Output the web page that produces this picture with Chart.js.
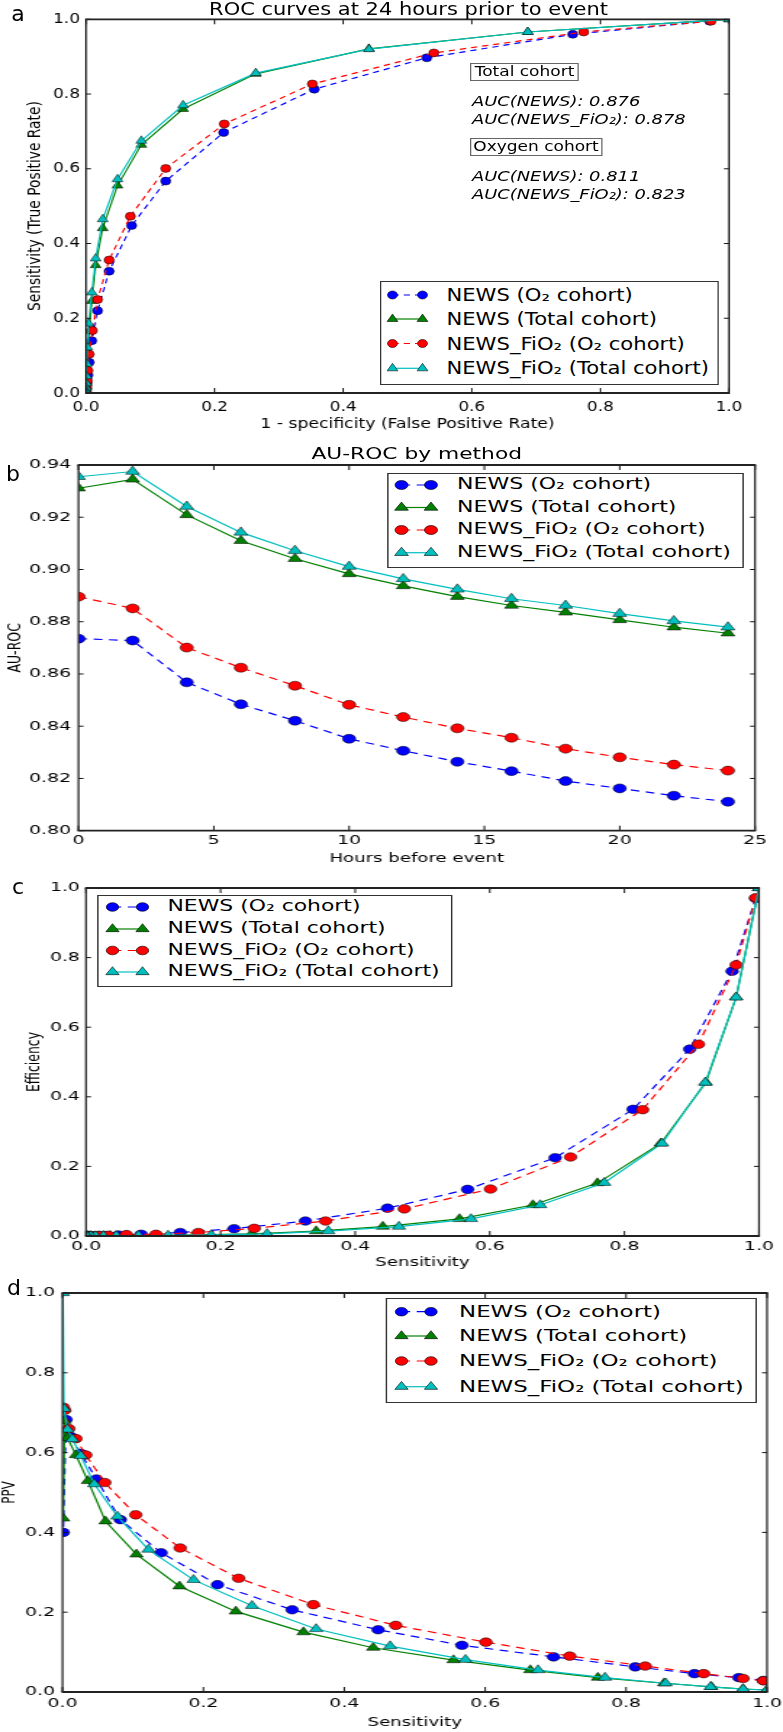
<!DOCTYPE html>
<html>
<head>
<meta charset="utf-8">
<script src="https://cdn.jsdelivr.net/npm/chart.js@4.4.1/dist/chart.umd.min.js"></script>
<style>
html,body{margin:0;padding:0;background:#fff;}
body{width:783px;height:1732px;overflow:hidden;position:relative;font-family:"DejaVu Sans",sans-serif;color:#000;}
.panel{position:absolute;left:0;transform-origin:0 0;}
.panel canvas{position:absolute;left:0;top:0;}
.t{position:absolute;white-space:nowrap;line-height:1;}
.c{transform:translate(-50%,-50%);}
.l{transform:translate(0,-50%);}
.legend{position:absolute;background:#fff;box-sizing:border-box;border-style:solid;border-color:#333;}
.box{position:absolute;box-sizing:border-box;border-style:solid;border-color:#666;display:flex;align-items:center;justify-content:center;white-space:nowrap;line-height:1;}
svg{position:absolute;left:0;top:0;overflow:visible;}
</style>
</head>
<body>
<script>
// ---------------- DATA ----------------
const legendLabels = ['NEWS (O₂ cohort)', 'NEWS (Total cohort)', 'NEWS_FiO₂ (O₂ cohort)', 'NEWS_FiO₂ (Total cohort)'];

// tick labels
const unitTicks = [0, 0.2, 0.4, 0.6, 0.8, 1.0];
const hourTicks = [0, 5, 10, 15, 20, 25];
const aurocTicks = [0.80, 0.82, 0.84, 0.86, 0.88, 0.90, 0.92, 0.94];

// Panel b: AU-ROC by hours before event
const hoursBefore = [0, 2, 4, 6, 8, 10, 12, 14, 16, 18, 20, 22, 24];
const aurocNewsO2 = [0.8735, 0.8728, 0.8568, 0.8484, 0.8421, 0.8352, 0.8306, 0.8264, 0.8228, 0.8190, 0.8162, 0.8134, 0.8111];
const aurocNewsTotal = [0.9311, 0.9345, 0.9209, 0.9110, 0.9041, 0.8983, 0.8937, 0.8896, 0.8862, 0.8836, 0.8807, 0.8779, 0.8756];
const aurocFio2O2 = [0.8896, 0.8851, 0.8701, 0.8624, 0.8555, 0.8482, 0.8435, 0.8392, 0.8356, 0.8314, 0.8281, 0.8253, 0.8230];
const aurocFio2Total = [0.9355, 0.9375, 0.9241, 0.9142, 0.9072, 0.9011, 0.8964, 0.8924, 0.8888, 0.8862, 0.8831, 0.8803, 0.8779];

// Panels a, c, d: operating points (one per score threshold)
const sensNewsO2 = [0.995, 0.960, 0.897, 0.813, 0.697, 0.567, 0.448, 0.326, 0.220, 0.140, 0.082, 0.048, 0.026, 0.012, 0.005, 0.001];
const fprNewsO2  = [0.970, 0.757, 0.530, 0.355, 0.214, 0.124, 0.071, 0.036, 0.018, 0.009, 0.005, 0.003, 0.0015, 0.0008, 0.0003, 0.0001];
const effNewsO2  = [0.970, 0.761, 0.537, 0.364, 0.225, 0.134, 0.080, 0.043, 0.021, 0.010, 0.005, 0.003, 0.0015, 0.0008, 0.0003, 0.0001];
const ppvNewsO2  = [0.029, 0.036, 0.046, 0.063, 0.088, 0.117, 0.156, 0.206, 0.269, 0.349, 0.432, 0.534, 0.598, 0.640, 0.683, 0.400];

const sensNewsTotal = [1.0, 0.966, 0.921, 0.854, 0.760, 0.664, 0.555, 0.441, 0.342, 0.246, 0.166, 0.105, 0.061, 0.036, 0.019, 0.007, 0.003, 0.001];
const fprNewsTotal  = [1.0, 0.687, 0.440, 0.264, 0.151, 0.086, 0.049, 0.026, 0.015, 0.009, 0.005, 0.003, 0.0015, 0.0008, 0.0004, 0.0002, 0.0001, 0.00005];
const effNewsTotal  = [1.0, 0.686, 0.441, 0.266, 0.152, 0.089, 0.049, 0.027, 0.014, 0.006, 0.003, 0.0015, 0.0008, 0.0005, 0.0003, 0.0001, 0.00005, 0.00002];
const ppvNewsTotal  = [0.005, 0.0075, 0.013, 0.022, 0.036, 0.055, 0.080, 0.111, 0.150, 0.202, 0.265, 0.345, 0.428, 0.529, 0.594, 0.637, 0.680, 0.435];

const sensFio2O2 = [0.995, 0.966, 0.910, 0.827, 0.720, 0.601, 0.473, 0.356, 0.250, 0.167, 0.104, 0.060, 0.033, 0.019, 0.009, 0.003, 0.001];
const fprFio2O2  = [0.972, 0.774, 0.541, 0.352, 0.215, 0.124, 0.069, 0.036, 0.018, 0.010, 0.005, 0.003, 0.002, 0.001, 0.0005, 0.0002, 0.0001];
const effFio2O2  = [0.972, 0.779, 0.551, 0.363, 0.227, 0.135, 0.078, 0.043, 0.022, 0.010, 0.005, 0.004, 0.002, 0.001, 0.0005, 0.0002, 0.0001];
const ppvFio2O2  = [0.028, 0.034, 0.046, 0.065, 0.090, 0.125, 0.167, 0.219, 0.285, 0.361, 0.444, 0.525, 0.594, 0.635, 0.660, 0.706, 0.714];

const sensFio2Total = [1.0, 0.966, 0.920, 0.856, 0.770, 0.675, 0.572, 0.465, 0.360, 0.269, 0.186, 0.122, 0.078, 0.045, 0.026, 0.014, 0.007, 0.002, 0.0005];
const fprFio2Total  = [1.0, 0.687, 0.440, 0.264, 0.151, 0.086, 0.049, 0.026, 0.015, 0.009, 0.004, 0.002, 0.0012, 0.0007, 0.0004, 0.0002, 0.0001, 0.00005, 0.00002];
const effFio2Total  = [1.0, 0.686, 0.441, 0.266, 0.153, 0.089, 0.049, 0.027, 0.014, 0.006, 0.003, 0.0015, 0.0009, 0.0005, 0.0003, 0.0002, 0.0001, 0.00005, 0.00002];
const ppvFio2Total  = [0.005, 0.007, 0.013, 0.022, 0.036, 0.055, 0.081, 0.115, 0.158, 0.216, 0.281, 0.357, 0.440, 0.521, 0.592, 0.634, 0.658, 0.710, 1.0];

// ---------------- STYLE / LAYOUT ----------------
const FONT = '"DejaVu Sans", sans-serif';
Chart.defaults.font.family = FONT;
Chart.defaults.color = '#000';

const styles = [
  {color: '#0000ff', dash: true,  point: 'circle'},
  {color: '#008000', dash: false, point: 'triangle'},
  {color: '#ff0000', dash: true,  point: 'circle'},
  {color: '#00bfbf', dash: false, point: 'triangle'}
];

const NS = 'http://www.w3.org/2000/svg';

const framePlugin = {
  id: 'frame',
  afterDatasetsDraw(chart, args, opts) {
    const {ctx, chartArea: a} = chart;
    const xs = chart.scales.x, ys = chart.scales.y;
    const S = opts.S || 1;
    ctx.save();
    ctx.strokeStyle = '#111';
    ctx.lineWidth = 1;
    ctx.beginPath();
    const tv = 5, th = 5 / S;
    xs.ticks.forEach(t => {
      const p = xs.getPixelForValue(t.value);
      ctx.moveTo(p, a.bottom); ctx.lineTo(p, a.bottom - tv);
      ctx.moveTo(p, a.top); ctx.lineTo(p, a.top + tv);
    });
    ys.ticks.forEach(t => {
      const p = ys.getPixelForValue(t.value);
      ctx.moveTo(a.left, p); ctx.lineTo(a.left + th, p);
      ctx.moveTo(a.right, p); ctx.lineTo(a.right - th, p);
    });
    ctx.stroke();
    ctx.strokeStyle = '#222';
    ctx.lineWidth = 1.8;
    ctx.beginPath();
    ctx.moveTo(a.left - 0.9 / S, a.top); ctx.lineTo(a.right + 0.9 / S, a.top);
    ctx.moveTo(a.left - 0.9 / S, a.bottom); ctx.lineTo(a.right + 0.9 / S, a.bottom);
    ctx.stroke();
    ctx.lineWidth = 1.8 / S;
    ctx.beginPath();
    ctx.moveTo(a.left, a.top); ctx.lineTo(a.left, a.bottom);
    ctx.moveTo(a.right, a.top); ctx.lineTo(a.right, a.bottom);
    ctx.stroke();
    ctx.restore();
  }
};

function makePanel(L) {
  const div = document.createElement('div');
  div.className = 'panel';
  div.style.top = L.top + 'px';
  div.style.width = L.W + 'px';
  div.style.height = L.H + 'px';
  div.style.transform = 'scaleX(' + L.S + ')';
  document.body.appendChild(div);
  const cv = document.createElement('canvas');
  cv.width = L.W; cv.height = L.H;
  cv.style.width = L.W + 'px'; cv.style.height = L.H + 'px';
  div.appendChild(cv);
  return {div, cv, S: L.S, top: L.top, L};
}

function buildDatasets(xArrs, yArrs, L) {
  return legendLabels.map((lab, i) => ({
    label: lab,
    data: xArrs[i].map((x, j) => ({x: x, y: yArrs[i][j]})),
    borderColor: styles[i].color,
    backgroundColor: styles[i].color,
    borderWidth: L.lw,
    borderDash: styles[i].dash ? L.dash : [],
    pointStyle: styles[i].point,
    pointRadius: styles[i].point === 'circle' ? L.rc : L.rt,
    pointBackgroundColor: styles[i].color,
    pointBorderColor: '#000',
    pointBorderWidth: 0.5,
    tension: 0,
    fill: false,
    order: 3 - i
  }));
}

function makeChart(p, datasets, ax) {
  const L = p.L;
  const yW = L.left / L.S;
  const padRight = L.W - L.right / L.S;
  return new Chart(p.cv, {
    type: 'line',
    data: {datasets},
    options: {
      responsive: false, animation: false, devicePixelRatio: 1,
      events: [],
      layout: {padding: {left: 0, top: L.ctop - L.top, right: padRight, bottom: 0}},
      plugins: {legend: {display: false}, title: {display: false}, tooltip: {enabled: false}, frame: {S: L.S}},
      scales: {
        x: {
          type: 'linear', min: ax.xMin, max: ax.xMax,
          afterBuildTicks: s => { s.ticks = ax.xTicks.map(v => ({value: v})); },
          afterFit: s => { s.height = L.top + L.H - L.cbottom; },
          grid: {display: false, drawTicks: false}, border: {display: false},
          ticks: {autoSkip: false, maxRotation: 0, minRotation: 0, color: '#000',
                  font: {family: FONT, size: L.tickFont}, padding: L.xTickPad, callback: ax.xFmt},
          title: {display: true, text: ax.xTitle, color: '#000', font: {family: FONT, size: L.titleFont},
                  padding: {top: 0, bottom: L.xTitlePad}}
        },
        y: {
          type: 'linear', min: ax.yMin, max: ax.yMax,
          afterBuildTicks: s => { s.ticks = ax.yTicks.map(v => ({value: v})); },
          afterFit: s => { s.width = yW; },
          grid: {display: false, drawTicks: false}, border: {display: false},
          ticks: {autoSkip: false, color: '#000', font: {family: FONT, size: L.tickFont},
                  padding: L.yTickPad, callback: ax.yFmt},
          title: {display: true, text: ax.yTitle, color: '#000', font: {family: FONT, size: L.yTitleFont || L.titleFont},
                  padding: {top: L.yTitlePad, bottom: 0}}
        }
      }
    },
    plugins: [framePlugin]
  });
}

function addText(p, text, fx, fy, size, opts) {
  opts = opts || {};
  const el = document.createElement('div');
  el.className = 't ' + (opts.left ? 'l' : 'c');
  el.style.left = (fx / p.S) + 'px';
  el.style.top = (fy - p.top) + 'px';
  el.style.fontSize = size + 'px';
  if (opts.italic) el.style.fontStyle = 'italic';
  el.textContent = text;
  p.div.appendChild(el);
  return el;
}

function addBox(p, text, x1, y1, x2, y2, size) {
  const el = document.createElement('div');
  el.className = 'box';
  el.style.left = (x1 / p.S) + 'px';
  el.style.top = (y1 - p.top) + 'px';
  el.style.width = ((x2 - x1) / p.S) + 'px';
  el.style.height = (y2 - y1) + 'px';
  el.style.borderWidth = '1.5px ' + (1.5 / p.S) + 'px';
  el.style.fontSize = size + 'px';
  el.textContent = text;
  p.div.appendChild(el);
}

function addLegend(p, G) {
  const L = p.L;
  const box = document.createElement('div');
  box.className = 'legend';
  box.style.left = (G.x1 / p.S) + 'px';
  box.style.top = (G.y1 - p.top) + 'px';
  box.style.width = ((G.x2 - G.x1) / p.S) + 'px';
  box.style.height = (G.y2 - G.y1) + 'px';
  box.style.borderWidth = '1.6px ' + (1.6 / p.S) + 'px';
  p.div.appendChild(box);
  const svg = document.createElementNS(NS, 'svg');
  svg.setAttribute('width', L.W); svg.setAttribute('height', L.H);
  p.div.appendChild(svg);
  legendLabels.forEach((lab, i) => {
    const st = styles[i];
    const y = G.rows[i] - p.top;
    const xa = G.m1 / p.S, xb = G.m2 / p.S;
    const ln = document.createElementNS(NS, 'line');
    ln.setAttribute('x1', xa); ln.setAttribute('x2', xb);
    ln.setAttribute('y1', y); ln.setAttribute('y2', y);
    ln.setAttribute('stroke', st.color); ln.setAttribute('stroke-width', L.lw);
    if (st.dash) ln.setAttribute('stroke-dasharray', L.dash.join(','));
    svg.appendChild(ln);
    [xa, xb].forEach(x => {
      let m;
      if (st.point === 'circle') {
        m = document.createElementNS(NS, 'circle');
        m.setAttribute('cx', x); m.setAttribute('cy', y); m.setAttribute('r', L.rc);
      } else {
        m = document.createElementNS(NS, 'polygon');
        const r = L.rt;
        m.setAttribute('points', [x, y - r, x + 0.866 * r, y + 0.5 * r, x - 0.866 * r, y + 0.5 * r].join(' '));
      }
      m.setAttribute('fill', st.color); m.setAttribute('stroke', '#000'); m.setAttribute('stroke-width', 0.5);
      svg.appendChild(m);
    });
    addText(p, lab, G.tx, G.rows[i], G.font, {left: true});
  });
}

function addLetter(ch, x, y, size) {
  const el = document.createElement('div');
  el.className = 't c';
  el.style.left = x + 'px'; el.style.top = y + 'px'; el.style.fontSize = size + 'px';
  el.textContent = ch;
  document.body.appendChild(el);
}

const f1 = v => Number(v).toFixed(1);
const f2 = v => Number(v).toFixed(2);
const f0 = v => String(Math.round(v));

// layout in page pixels (x values divided by the panel's horizontal stretch S)
const LAY = {
  a: {S: 1.25, top: 0,    H: 440, W: 660, left: 86,   right: 729, ctop: 19.3, cbottom: 393,
      tickFont: 13.5, xTickPad: 5.9, yTickPad: 4.8, titleFont: 13.8, xTitlePad: 7.7, yTitlePad: 20.5,
      rc: 4.0, rt: 5.0, lw: 1.2, dash: [5, 4]},
  b: {S: 1.45, top: 440,  H: 440, W: 580, left: 78.5, right: 755, ctop: 465, cbottom: 830.7,
      tickFont: 13, xTickPad: 2.2, yTickPad: 5.2, titleFont: 12.5, xTitlePad: 14.2, yTitlePad: 2.8,
      rc: 4.5, rt: 5.5, lw: 1.2, dash: [6, 4.5]},
  c: {S: 1.45, top: 875,  H: 405, W: 580, left: 86,   right: 759, ctop: 888, cbottom: 1236,
      tickFont: 13, xTickPad: 2.9, yTickPad: 4.2, titleFont: 12.5, xTitlePad: 9.8, yTitlePad: 15.9,
      rc: 4.3, rt: 5.3, lw: 1.2, dash: [6, 4.5]},
  d: {S: 1.45, top: 1280, H: 452, W: 580, left: 62.5, right: 767, ctop: 1290, cbottom: 1692,
      tickFont: 13, xTickPad: 3.5, yTickPad: 5.2, titleFont: 12.5, yTitleFont: 12, xTitlePad: 2.2, yTitlePad: 0,
      rc: 4.3, rt: 5.3, lw: 1.2, dash: [6, 4.5]}
};

// ---------------- PANEL a ----------------
const pa = makePanel(LAY.a);
makeChart(pa, buildDatasets(
  [fprNewsO2, fprNewsTotal, fprFio2O2, fprFio2Total],
  [sensNewsO2, sensNewsTotal, sensFio2O2, sensFio2Total], LAY.a),
  {xMin: 0, xMax: 1, yMin: 0, yMax: 1, xTicks: unitTicks, yTicks: unitTicks, xFmt: f1, yFmt: f1,
   xTitle: '1 - specificity (False Positive Rate)', yTitle: 'Sensitivity (True Positive Rate)'});
addText(pa, 'ROC curves at 24 hours prior to event', 408.5, 9, 16.8);
addBox(pa, 'Total cohort', 470, 63.3, 579, 80.7, 13.6);
addText(pa, 'AUC(NEWS): 0.876', 472, 101, 14.3, {left: true, italic: true});
addText(pa, 'AUC(NEWS_FiO₂): 0.878', 472, 119, 14.3, {left: true, italic: true});
addBox(pa, 'Oxygen cohort', 470, 138, 602, 155.5, 13.6);
addText(pa, 'AUC(NEWS): 0.811', 472, 176, 14.3, {left: true, italic: true});
addText(pa, 'AUC(NEWS_FiO₂): 0.823', 472, 194, 14.3, {left: true, italic: true});
addLegend(pa, {x1: 380, y1: 281, x2: 719, y2: 385, rows: [295, 319, 343.5, 368.3], m1: 392.5, m2: 422.5, tx: 446.5, font: 16.9});

// ---------------- PANEL b ----------------
const pb = makePanel(LAY.b);
makeChart(pb, buildDatasets(
  [hoursBefore, hoursBefore, hoursBefore, hoursBefore],
  [aurocNewsO2, aurocNewsTotal, aurocFio2O2, aurocFio2Total], LAY.b),
  {xMin: 0, xMax: 25, yMin: 0.80, yMax: 0.94, xTicks: hourTicks, yTicks: aurocTicks, xFmt: f0, yFmt: f2,
   xTitle: 'Hours before event', yTitle: 'AU-ROC'});
addText(pb, 'AU-ROC by method', 416.75, 454, 15);
addLegend(pb, {x1: 386.5, y1: 472.7, x2: 744, y2: 568, rows: [485, 507.5, 530, 552.7], m1: 401.5, m2: 431, tx: 457, font: 15.2});

// ---------------- PANEL c ----------------
const pc = makePanel(LAY.c);
makeChart(pc, buildDatasets(
  [sensNewsO2, sensNewsTotal, sensFio2O2, sensFio2Total],
  [effNewsO2, effNewsTotal, effFio2O2, effFio2Total], LAY.c),
  {xMin: 0, xMax: 1, yMin: 0, yMax: 1, xTicks: unitTicks, yTicks: unitTicks, xFmt: f1, yFmt: f1,
   xTitle: 'Sensitivity', yTitle: 'Efficiency'});
addLegend(pc, {x1: 97.5, y1: 895, x2: 452.5, y2: 987, rows: [907, 929, 950.5, 972], m1: 112.5, m2: 142.5, tx: 167.5, font: 15.1});

// ---------------- PANEL d ----------------
const pd = makePanel(LAY.d);
makeChart(pd, buildDatasets(
  [sensNewsO2, sensNewsTotal, sensFio2O2, sensFio2Total],
  [ppvNewsO2, ppvNewsTotal, ppvFio2O2, ppvFio2Total], LAY.d),
  {xMin: 0, xMax: 1, yMin: 0, yMax: 1, xTicks: unitTicks, yTicks: unitTicks, xFmt: f1, yFmt: f1,
   xTitle: 'Sensitivity', yTitle: 'PPV'});
addLegend(pd, {x1: 385, y1: 1298, x2: 757.5, y2: 1403, rows: [1311.7, 1336, 1361, 1386.7], m1: 401.5, m2: 431, tx: 459, font: 15.8});

// panel letters
addLetter('a', 18, 14, 22);
addLetter('b', 13, 474, 22);
addLetter('c', 18, 887, 22);
addLetter('d', 14, 1288, 22);
</script>
</body>
</html>
